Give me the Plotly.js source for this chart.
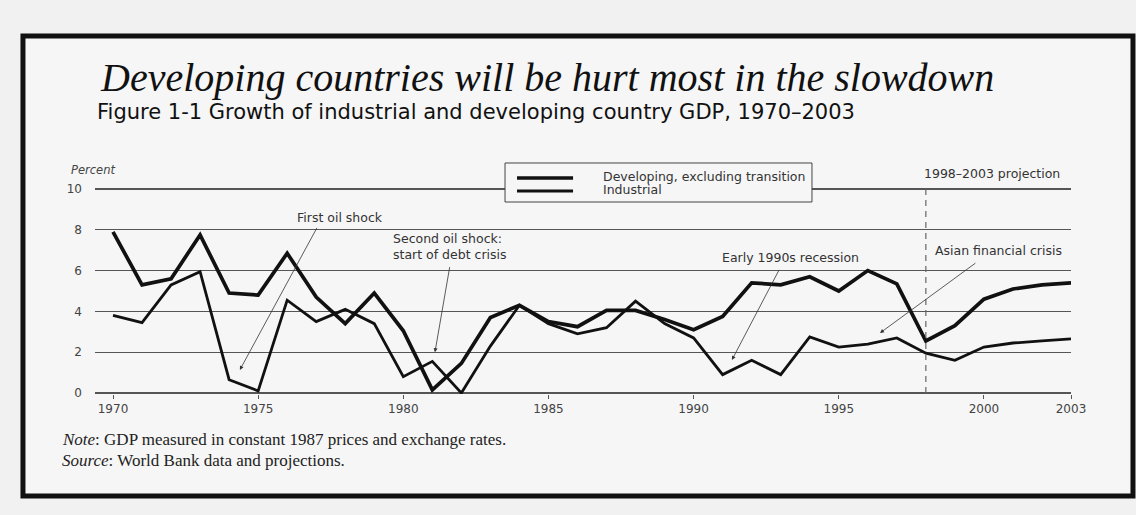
<!DOCTYPE html>
<html>
<head>
<meta charset="utf-8">
<script src="https://cdn.plot.ly/plotly-3.0.1.min.js"></script>
<style>
  html, body { margin: 0; padding: 0; background: #f1f1f1; }
  #chart { width: 1136px; height: 515px; }
</style>
</head>
<body>
<div id="chart"></div>
<script>
// ---- Data ----
const years = [1970,1971,1972,1973,1974,1975,1976,1977,1978,1979,
               1980,1981,1982,1983,1984,1985,1986,1987,1988,1989,
               1990,1991,1992,1993,1994,1995,1996,1997,1998,1999,
               2000,2001,2002,2003];
const developing = [7.9, 5.3, 5.6, 7.75, 4.9, 4.8, 6.85, 4.7, 3.4, 4.9,
                    3.05, 0.15, 1.45, 3.7, 4.3, 3.5, 3.25, 4.05, 4.05, 3.6,
                    3.1, 3.75, 5.4, 5.3, 5.7, 5.0, 6.0, 5.35, 2.55, 3.3,
                    4.6, 5.1, 5.3, 5.4];
const industrial = [3.8, 3.45, 5.3, 5.95, 0.65, 0.1, 4.55, 3.5, 4.1, 3.4,
                    0.8, 1.55, 0.0, 2.3, 4.3, 3.4, 2.9, 3.2, 4.5, 3.4,
                    2.7, 0.9, 1.6, 0.9, 2.75, 2.25, 2.4, 2.7, 1.95, 1.6,
                    2.25, 2.45, 2.55, 2.65];
const xTickVals = [1970, 1975, 1980, 1985, 1990, 1995, 2000, 2003];
const xTickText = ['1970', '1975', '1980', '1985', '1990', '1995', '2000', '2003'];
const yTickVals = [0, 2, 4, 6, 8, 10];
const seriesNames = ['Developing, excluding transition', 'Industrial'];
const projectionStart = 1998;

// ---- Traces ----
const traces = [
  { x: years, y: developing, name: seriesNames[0], type: 'scatter', mode: 'lines',
    line: { color: '#111', width: 3.7 }, cliponaxis: false, hoverinfo: 'x+y' },
  { x: years, y: industrial, name: seriesNames[1], type: 'scatter', mode: 'lines',
    line: { color: '#111', width: 2.8 }, cliponaxis: false, hoverinfo: 'x+y' }
];

const sans = 'DejaVu Sans, Liberation Sans, Arial, sans-serif';
const annFont = { family: sans, size: 12.5, color: '#333' };
const arrowCommon = { showarrow: true, arrowhead: 2, arrowsize: 1, arrowwidth: 0.8,
  arrowcolor: '#333', axref: 'x', ayref: 'y', text: ' ', font: { size: 1 }, standoff: 0, startstandoff: 0 };

const layout = {
  width: 1136, height: 515,
  margin: { l: 95, r: 65, t: 188, b: 121 },
  paper_bgcolor: '#f1f1f1',
  plot_bgcolor: 'rgba(0,0,0,0)',
  showlegend: false,
  xaxis: {
    range: [1969.38, 2003], tickvals: xTickVals, ticktext: xTickText,
    showgrid: false, zeroline: false, showline: false,
    ticks: 'outside', ticklen: 4, tickcolor: '#555', tickwidth: 1,
    tickfont: { family: sans, size: 12, color: '#444' },
    fixedrange: true
  },
  yaxis: {
    range: [-0.05, 10.05], tickvals: yTickVals,
    showgrid: true, gridcolor: '#555', gridwidth: 1.3,
    zeroline: false, showline: false, ticks: '',
    ticklabelstandoff: 12,
    tickfont: { family: sans, size: 12, color: '#444' },
    fixedrange: true
  },
  shapes: [
    // page border
    { type: 'rect', xref: 'paper', yref: 'paper', x0: -0.0738, x1: 1.0635, y0: -0.4951, y1: 1.7379,
      line: { color: '#111', width: 5 }, fillcolor: '#f6f6f6', layer: 'below' },
    // projection divider
    { type: 'line', xref: 'x', yref: 'y', x0: projectionStart, x1: projectionStart, y0: 0, y1: 10.25,
      line: { color: '#666', width: 1.2, dash: '6px,5px' }, layer: 'above' },
    // legend box
    { type: 'rect', xref: 'paper', yref: 'paper', x0: 0.4201, x1: 0.7346, y0: 0.9320, y1: 1.1214,
      line: { color: '#444', width: 1 }, fillcolor: '#f6f6f6', layer: 'above' },
    { type: 'line', xref: 'paper', yref: 'paper', x0: 0.4324, x1: 0.4898, y0: 1.0485, y1: 1.0485,
      line: { color: '#111', width: 3.7 }, layer: 'above' },
    { type: 'line', xref: 'paper', yref: 'paper', x0: 0.4324, x1: 0.4898, y0: 0.9854, y1: 0.9854,
      line: { color: '#111', width: 2.8 }, layer: 'above' }
  ],
  annotations: [
    { xref: 'paper', yref: 'paper', x: 0.0031, y: 1.534, xanchor: 'left', yanchor: 'middle',
      text: '<i>Developing countries will be hurt most in the slowdown</i>', showarrow: false,
      font: { family: 'Liberation Serif, Times New Roman, serif', size: 40, color: '#111' } },
    { xref: 'paper', yref: 'paper', x: 0.0, y: 1.369, xanchor: 'left', yanchor: 'middle',
      text: 'Figure 1-1 Growth of industrial and developing country GDP, 1970–2003', showarrow: false,
      font: { family: sans, size: 21, color: '#111' } },
    { xref: 'paper', yref: 'paper', x: -0.0266, y: 1.0874, xanchor: 'left', yanchor: 'middle',
      text: '<i>Percent</i>', showarrow: false,
      font: { family: sans, size: 11.5, color: '#444' } },
    { xref: 'paper', yref: 'paper', x: 0.5185, y: 1.0534, xanchor: 'left', yanchor: 'middle',
      text: seriesNames[0], showarrow: false, font: annFont },
    { xref: 'paper', yref: 'paper', x: 0.5185, y: 0.9903, xanchor: 'left', yanchor: 'middle',
      text: seriesNames[1], showarrow: false, font: annFont },
    { xref: 'paper', yref: 'paper', x: 0.9908, y: 1.0728, xanchor: 'right', yanchor: 'middle',
      text: '1998–2003 projection', showarrow: false, font: annFont },
    // annotation texts
    { xref: 'paper', yref: 'paper', x: 0.2510, y: 0.8592, xanchor: 'center', yanchor: 'middle',
      text: 'First oil shock', showarrow: false, font: annFont },
    { xref: 'paper', yref: 'paper', x: 0.3030, y: 0.7136, xanchor: 'left', yanchor: 'middle',
      text: 'Second oil shock:<br>start of debt crisis', align: 'left', showarrow: false, font: annFont },
    { xref: 'paper', yref: 'paper', x: 0.7131, y: 0.6650, xanchor: 'center', yanchor: 'middle',
      text: 'Early 1990s recession', showarrow: false, font: annFont },
    { xref: 'paper', yref: 'paper', x: 0.9262, y: 0.6942, xanchor: 'center', yanchor: 'middle',
      text: 'Asian financial crisis', showarrow: false, font: annFont },
    // arrows
    Object.assign({ x: 1974.37, y: 1.13, ax: 1977.06, ay: 8.19 }, arrowCommon),
    Object.assign({ x: 1981.09, y: 2.0, ax: 1981.61, ay: 6.27 }, arrowCommon),
    Object.assign({ x: 1991.32, y: 1.62, ax: 1992.98, ay: 6.13 }, arrowCommon),
    Object.assign({ x: 1996.42, y: 2.94, ax: 1999.76, ay: 6.42 }, arrowCommon),
    // notes
    { xref: 'paper', yref: 'paper', x: -0.0358, y: -0.2233, xanchor: 'left', yanchor: 'middle',
      text: '<i>Note</i>: GDP measured in constant 1987 prices and exchange rates.', showarrow: false,
      font: { family: 'Liberation Serif, Times New Roman, serif', size: 17, color: '#222' } },
    { xref: 'paper', yref: 'paper', x: -0.0358, y: -0.3204, xanchor: 'left', yanchor: 'middle',
      text: '<i>Source</i>: World Bank data and projections.', showarrow: false,
      font: { family: 'Liberation Serif, Times New Roman, serif', size: 17, color: '#222' } }
  ]
};

Plotly.newPlot('chart', traces, layout, { displayModeBar: false, staticPlot: true });
</script>
</body>
</html>
